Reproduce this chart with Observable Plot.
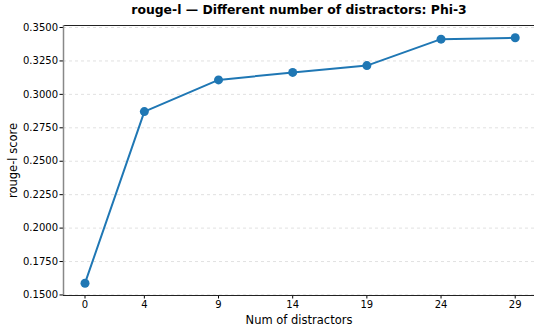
<!DOCTYPE html>
<html><head><meta charset="utf-8">
<script src="https://cdn.jsdelivr.net/npm/d3@7"></script>
<script src="https://cdn.jsdelivr.net/npm/@observablehq/plot@0.6"></script>
<style>body{margin:0;background:#fff}</style>
</head><body><div id="chart"></div>
<script>
const distractors = [0, 4, 9, 14, 19, 24, 29];
const scores = [0.1588, 0.2871, 0.3108, 0.3164, 0.3215, 0.3413, 0.3423];
const yTicks = [0.15, 0.175, 0.2, 0.225, 0.25, 0.275, 0.3, 0.325, 0.35];
const title = "rouge-l — Different number of distractors: Phi-3";
const xLabel = "Num of distractors";
const yLabel = "rouge-l score";

const data = distractors.map((d, i) => ({x: d, y: scores[i]}));
const yDom = [0.1496, 0.3515];
const xDom = [-1.45, 30.3];
const font = "DejaVu Sans";

const plot = Plot.plot({
  width: 534, height: 330,
  marginLeft: 63, marginRight: 0, marginTop: 25, marginBottom: 35,
  style: {fontFamily: font, fontSize: "10px", color: "#000", background: "#fff"},
  x: {domain: xDom, label: null},
  y: {domain: yDom, label: null},
  marks: [
    Plot.ruleY(yTicks, {stroke: "#ccc", strokeDasharray: "3,3", strokeWidth: 0.6}),
    Plot.axisX({ticks: distractors, tickFormat: d => String(d), tickSize: 3.5, tickPadding: 2, label: null, fontSize: 10}),
    Plot.axisY({ticks: yTicks, tickFormat: d3.format(".4f"), tickSize: 3.5, tickPadding: 2, label: null, fontSize: 10}),
    Plot.ruleY([yDom[0]], {stroke: "#222", strokeWidth: 1}),
    Plot.ruleY([yDom[1]], {stroke: "#222", strokeWidth: 1}),
    Plot.ruleX([xDom[0]], {stroke: "#888", strokeWidth: 1.5}),
    Plot.line(data, {x: "x", y: "y", stroke: "#1f77b4", strokeWidth: 2}),
    Plot.dot(data, {x: "x", y: "y", fill: "#1f77b4", r: 4.5, stroke: "none"}),
    Plot.text([title], {frameAnchor: "top", lineAnchor: "middle", textAnchor: "middle", dy: -15.5, fontWeight: "bold", fontSize: 12.4, fill: "#000"}),
    Plot.text([xLabel], {frameAnchor: "bottom", lineAnchor: "middle", textAnchor: "middle", dy: 25, fontSize: 11.5, fill: "#000"}),
    Plot.text([yLabel], {frameAnchor: "left", lineAnchor: "middle", textAnchor: "middle", dx: -50, rotate: -90, fontSize: 11.5, fill: "#000"})
  ]
});
document.getElementById("chart").appendChild(plot);
</script></body></html>
